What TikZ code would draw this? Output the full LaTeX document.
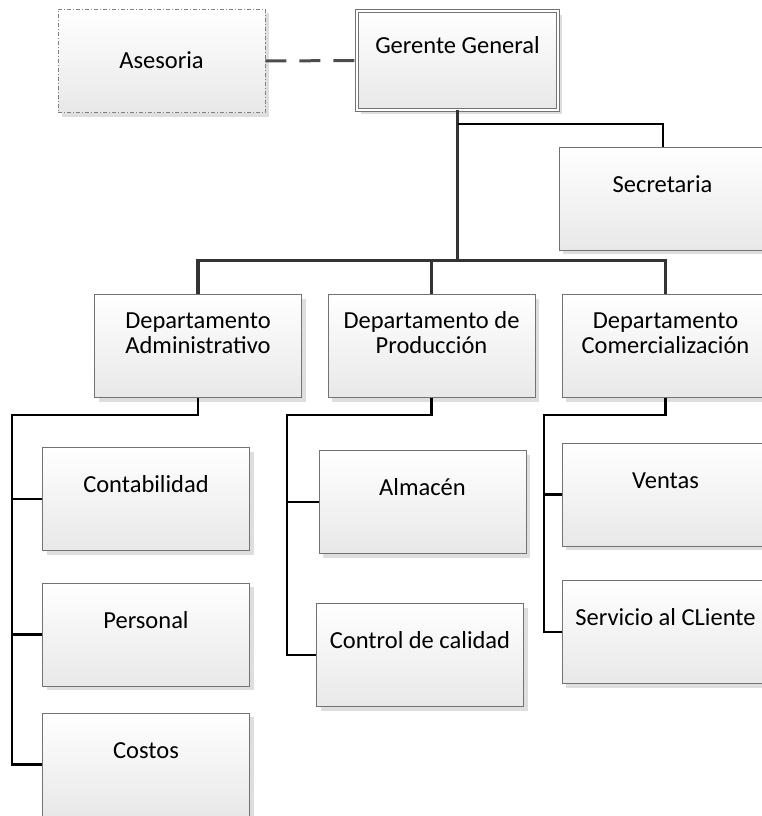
\documentclass[tikz,border=0pt]{standalone}
\usepackage{fontspec}
\setmainfont{Carlito}
\usetikzlibrary{shadows}

\begin{document}
\begin{tikzpicture}[x=1pt,y=1pt,font=\fontsize{24.5}{25.5}\selectfont,
   unit/.style={draw=black!55, line width=0.8pt, top color=white, bottom color=black!9,
      minimum width=207pt, minimum height=103pt, inner sep=0pt, align=center,
      text height=17pt, text depth=30pt,
      drop shadow={shadow xshift=4pt, shadow yshift=-4pt, fill=black!13, opacity=1}},
   dept/.style={unit, text height=42pt, text depth=27pt},
   trunk/.style={line width=3.2pt, black!80},
   link/.style={line width=2.4pt, black}]
   \useasboundingbox (0,0) rectangle (762,-816);

   \node[unit, draw=black!50, dash pattern=on 4pt off 2pt on 1pt off 2pt, text depth=3pt] (ases) at (161.5,-61) {Asesoria};
   \node[unit, double=white, double distance=2.4pt, minimum width=201pt, minimum height=99pt] (ger) at (457.5,-60.5) {Gerente General};
   \node[unit] (sec) at (662.5,-198.5) {Secretaria};

   \node[dept] (adm) at (198,-346) {Departamento\\Administrativo};
   \node[dept] (prod) at (431.5,-346) {Departamento de\\Producción};
   \node[dept] (com) at (665.5,-346) {Departamento\\Comercialización};

   \node[unit] (cont) at (146,-499) {Contabilidad};
   \node[unit] (pers) at (146,-634.5) {Personal};
   \node[unit] (cost) at (146,-764.5) {Costos};

   \node[unit] (alm) at (422.5,-502) {Almacén};
   \node[unit] (ctrl) at (420,-655) {Control de calidad};

   \node[unit] (ven) at (665.5,-494.5) {Ventas};
   \node[unit] (serv) at (665.5,-632) {Servicio al CLiente};

   \draw[line width=3pt, black!70, dash pattern=on 21pt off 13pt] (ases.east) -- (ger.west);

   \draw[trunk] (ger.south) -- ++(0,-150) coordinate (bus);
   \draw[link, line width=2pt] (ger.south) ++(0,-14) -| (sec.north);
   \draw[trunk] (adm.north) |- (bus) -| (com.north);
   \draw[trunk] (prod.north) -- (prod.north |- bus);

   \coordinate (admbus) at (12,-415);
   \draw[link] (adm.south) |- (admbus) |- (cost.west);
   \draw[link] (admbus |- cont.west) -- (cont.west);
   \draw[link] (admbus |- pers.west) -- (pers.west);

   \coordinate (prodbus) at (287,-415);
   \draw[link] (prod.south) |- (prodbus) |- (ctrl.west);
   \draw[link] (prodbus |- alm.west) -- (alm.west);

   \coordinate (combus) at (544,-415);
   \draw[link] (com.south) |- (combus) |- (serv.west);
   \draw[link] (combus |- ven.west) -- (ven.west);
\end{tikzpicture}
\end{document}
